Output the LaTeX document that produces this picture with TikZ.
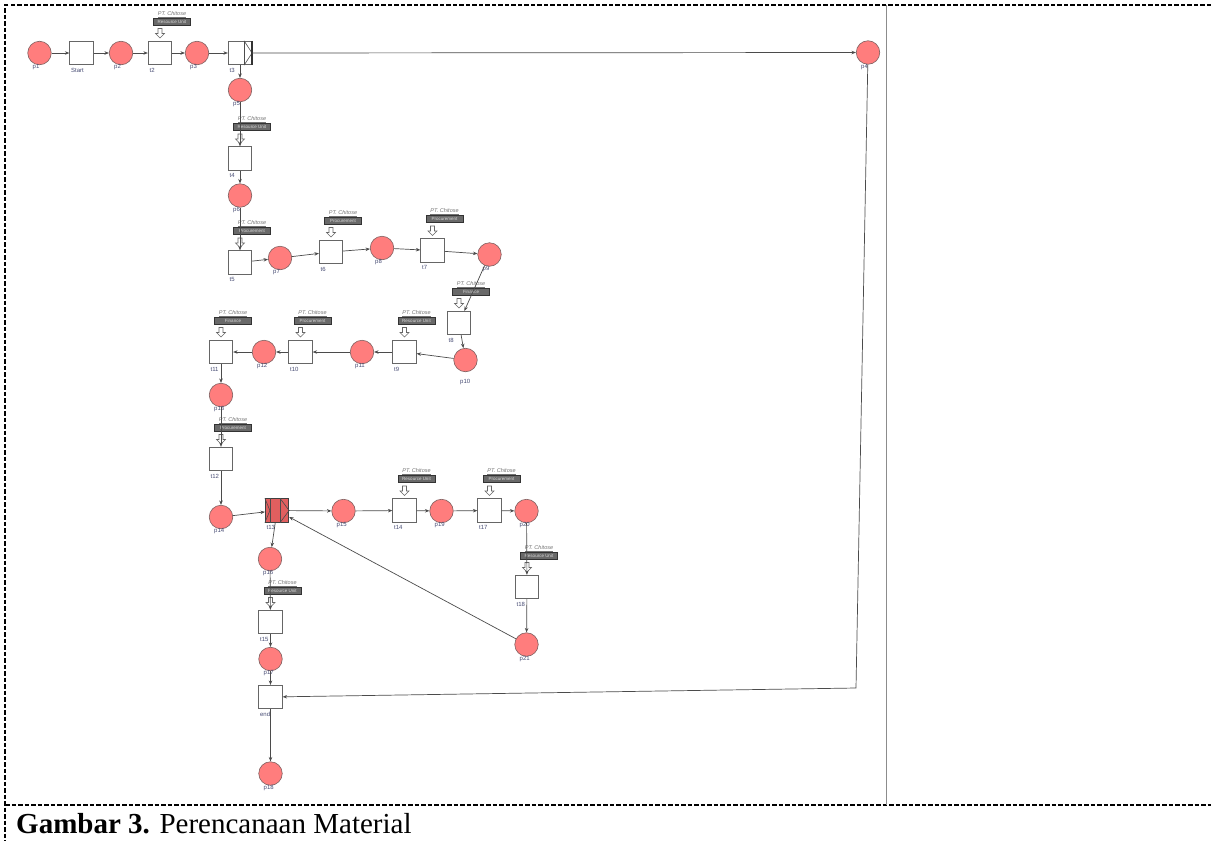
\documentclass[tikz,border=0pt]{standalone}
\usepackage{fontspec}
\setmainfont{Liberation Serif}
\newfontfamily\netfont{Liberation Sans}
\usetikzlibrary{arrows.meta,calc}

\definecolor{placefill}{RGB}{255,125,125}
\definecolor{placeline}{RGB}{125,95,95}
\definecolor{arcgray}{RGB}{75,75,75}
\definecolor{labelblue}{RGB}{70,75,115}
\definecolor{rolefill}{RGB}{105,105,105}
\definecolor{xorfill}{RGB}{225,95,95}

\tikzset{
  place/.style={circle, draw=placeline, fill=placefill, line width=0.6pt,
    minimum size=23.5pt, inner sep=0pt},
  trans/.style={rectangle, draw=black!60, fill=white, line width=0.7pt,
    minimum size=23.5pt, inner sep=0pt},
  xortrans/.style={trans, fill=xorfill, draw=black!75},
  arc/.style={draw=arcgray, line width=0.7pt, -{Stealth[length=4.5pt,width=3.5pt]}},
  nlabel/.style={font=\netfont\fontsize{6}{6.5}\selectfont, text=labelblue,
    inner sep=0pt, anchor=north west},
  company/.style={font=\netfont\itshape\fontsize{5.5}{6}\selectfont, text=black!55,
    inner sep=0pt},
  rolebox/.style={draw=black!80, fill=rolefill, text=white!85!black,
    font=\netfont\fontsize{4.5}{5}\selectfont, minimum width=37pt,
    minimum height=7pt, inner sep=0.5pt},
  trigger/.style={draw=black!60, fill=white, line width=0.6pt, line join=miter},
  frame/.style={line width=1.4pt, dash pattern=on 4.5pt off 2pt},
  marker/.style={draw=black!70, line width=0.6pt},
}

% name label under a place or transition
\newcommand\netlabel[2]{\node[nlabel] (#1lab) at ($(#1.south west)+(1.5,3)$) {#2};}
% resource trigger: hollow arrow, role box and company name above a transition
\newcommand\chitose[2]{%
  \draw[trigger] ($(#1)+(0,-15)$) -- ++(4.5,-4.5) -- ++(-2.5,0) -- ++(0,-5)
    -- ++(-4,0) -- ++(0,5) -- ++(-2.5,0) -- cycle;
  \node[rolebox] (#1role) at ($(#1)+(12,-31.5)$) {#2};
  \node[company] (#1firm) at ($(#1)+(12,-38.5)$) {\underline{PT. Chitose}};
}

\begin{document}
\begin{tikzpicture}[x=1pt, y=-1pt]
\useasboundingbox (0,0) rectangle (1211,841);

% page frame
\coordinate (ftl) at (5,5);
\coordinate (ftr) at (1211,5);
\coordinate (fll) at (5,841);
\coordinate (fbl) at (5,805);
\coordinate (fbr) at (1211,805);
\coordinate (sept) at (886,5);
\coordinate (sepb) at (886,805);
\draw[frame] (ftr) -- (ftl) -- (fll);
\draw[frame] (fbl) -- (fbr);
\draw[black!45, line width=0.9pt] (sept) -- (sepb);

% places
\node[place] (p1)  at (39.5,53) {};
\node[place] (p2)  at (121,53) {};
\node[place] (p3)  at (197,53) {};
\node[place] (p4)  at (868,52.5) {};
\node[place] (p5)  at (240,90) {};
\node[place] (p6)  at (240,195.5) {};
\node[place] (p7)  at (280,258) {};
\node[place] (p8)  at (382,248) {};
\node[place] (p9)  at (489.5,254.5) {};
\node[place] (p10) at (465.5,360) {};
\node[place] (p11) at (362,352) {};
\node[place] (p12) at (264,352) {};
\node[place] (p13) at (221,395) {};
\node[place] (p14) at (221,517) {};
\node[place] (p15) at (343.5,511) {};
\node[place] (p16) at (270,559) {};
\node[place] (p17) at (270.5,659) {};
\node[place] (p18) at (270.5,773.5) {};
\node[place] (p19) at (441.5,511) {};
\node[place] (p20) at (526.5,511) {};
\node[place] (p21) at (526.5,644.5) {};

% transitions
\node[trans] (start) at (81.5,53) {};
\node[trans] (t2)  at (160,53) {};
\node[trans] (t3)  at (240,53) {};
\node[trans] (t4)  at (240,158.5) {};
\node[trans] (t5)  at (240,262.5) {};
\node[trans] (t6)  at (331,252) {};
\node[trans] (t7)  at (432.5,250.5) {};
\node[trans] (t8)  at (459,323) {};
\node[trans] (t9)  at (404.5,352) {};
\node[trans] (t10) at (300.5,352) {};
\node[trans] (t11) at (221,352) {};
\node[trans] (t12) at (221,459) {};
\node[xortrans] (t13) at (277,510.5) {};
\node[trans] (t14) at (404.5,510.5) {};
\node[trans] (t17) at (489.5,510.5) {};
\node[trans] (t18) at (527,587) {};
\node[trans] (t15) at (270.5,622) {};
\node[trans] (tend) at (270.5,697) {};

% XOR split marker on t3
\draw[marker] ($(t3.north east)+(-8,0)$) -- ($(t3.south east)+(-8,0)$);
\draw[marker] ($(t3.north east)+(-8,0)$) -- (t3.east) -- ($(t3.south east)+(-8,0)$);
\draw[black!80, line width=1.3pt] (t3.north east) -- (t3.south east);

% XOR join/split markers on t13
\draw[marker] ($(t13.north west)+(5,0)$) -- ($(t13.south west)+(5,0)$);
\draw[marker] (t13.north west) -- ($(t13.west)+(5,0)$) -- (t13.south west);
\draw[marker] ($(t13.north east)+(-9,0)$) -- ($(t13.south east)+(-9,0)$);
\draw[marker] ($(t13.north east)+(-9,0)$) -- (t13.east) -- ($(t13.south east)+(-9,0)$);

% resource triggers
\chitose{t2}{Resource Unit}
\chitose{t4}{Resource Unit}
\chitose{t5}{Procurement}
\chitose{t6}{Procurement}
\chitose{t7}{Procurement}
\chitose{t8}{Finance}
\chitose{t9}{Resource Unit}
\chitose{t10}{Procurement}
\chitose{t11}{Finance}
\chitose{t12}{Procurement}
\chitose{t14}{Resource Unit}
\chitose{t17}{Procurement}
\chitose{t18}{Resource Unit}
\chitose{t15}{Resource Unit}

% names
\netlabel{p1}{p1}
\netlabel{start}{Start}
\netlabel{p2}{p2}
\netlabel{t2}{t2}
\netlabel{p3}{p3}
\netlabel{t3}{t3}
\netlabel{p4}{p4}
\netlabel{p5}{p5}
\netlabel{t4}{t4}
\netlabel{p6}{p6}
\netlabel{t5}{t5}
\netlabel{p7}{p7}
\netlabel{t6}{t6}
\netlabel{p8}{p8}
\netlabel{t7}{t7}
\netlabel{p9}{p9}
\netlabel{t8}{t8}
\node[nlabel] (p10lab) at ($(p10.south west)+(3,11)$) {p10};
\netlabel{t9}{t9}
\netlabel{p11}{p11}
\netlabel{t10}{t10}
\netlabel{p12}{p12}
\netlabel{t11}{t11}
\netlabel{p13}{p13}
\netlabel{t12}{t12}
\netlabel{p14}{p14}
\netlabel{t13}{t13}
\netlabel{p15}{p15}
\netlabel{t14}{t14}
\netlabel{p19}{p19}
\netlabel{t17}{t17}
\netlabel{p20}{p20}
\netlabel{t18}{t18}
\netlabel{p21}{p21}
\netlabel{p16}{p16}
\netlabel{t15}{t15}
\netlabel{p17}{p17}
\netlabel{tend}{end}
\netlabel{p18}{p18}

% arcs
\draw[arc] (p1) -- (start);
\draw[arc] (start) -- (p2);
\draw[arc] (p2) -- (t2);
\draw[arc] (t2) -- (p3);
\draw[arc] (p3) -- (t3);
\draw[arc] (t3) -- (p4);
\draw[arc] (t3) -- (p5);
\draw[arc] (p5) -- (t4);
\draw[arc] (t4) -- (p6);
\draw[arc] (p6) -- (t5);
\draw[arc] (t5) -- (p7);
\draw[arc] (p7) -- (t6);
\draw[arc] (t6) -- (p8);
\draw[arc] (p8) -- (t7);
\draw[arc] (t7) -- (p9);
\draw[arc] (p9) -- (t8);
\draw[arc] (t8) -- (p10);
\draw[arc] (p10) -- (t9);
\draw[arc] (t9) -- (p11);
\draw[arc] (p11) -- (t10);
\draw[arc] (t10) -- (p12);
\draw[arc] (p12) -- (t11);
\draw[arc] (t11) -- (p13);
\draw[arc] (p13) -- (t12);
\draw[arc] (t12) -- (p14);
\draw[arc] (p14) -- (t13);
\draw[arc] (t13) -- (p15);
\draw[arc] (p15) -- (t14);
\draw[arc] (t14) -- (p19);
\draw[arc] (p19) -- (t17);
\draw[arc] (t17) -- (p20);
\draw[arc] (p20) -- (t18);
\draw[arc] (t18) -- (p21);
\draw[arc] (p21) -- (t13);
\draw[arc] (t13) -- (p16);
\draw[arc] (p16) -- (t15);
\draw[arc] (t15) -- (p17);
\draw[arc] (p17) -- (tend);
\draw[arc] (tend) -- (p18);
\coordinate (p4bend) at (856,688);
\draw[arc] (p4) -- (p4bend) -- (tend);

% caption
\node[anchor=base west, inner sep=0pt, font=\fontsize{29}{31}\selectfont] (caption)
  at (16,833) {\textbf{Gambar 3.} Perencanaan Material};
\end{tikzpicture}
\end{document}
